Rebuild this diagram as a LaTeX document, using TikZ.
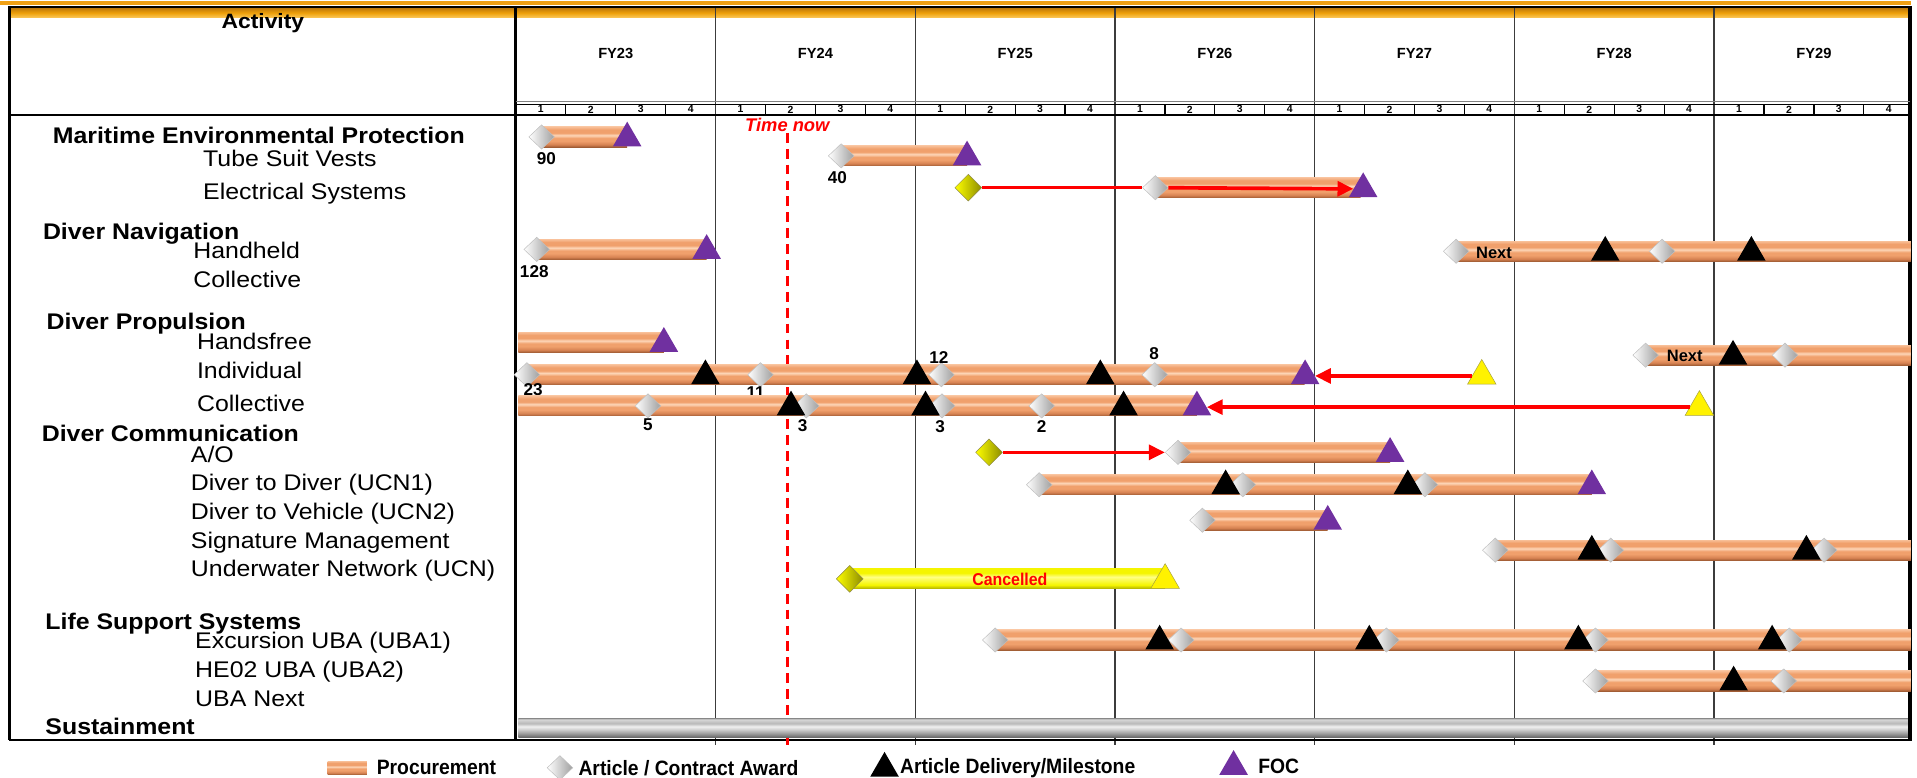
\documentclass[tikz,border=0pt]{standalone}
\usepackage{fontspec}
\setmainfont{Liberation Sans}
\newfontfamily\narrowfont[FakeStretch=0.93]{Liberation Sans}
\newfontfamily\widefont[FakeStretch=1.1]{Liberation Sans}
\usetikzlibrary{arrows.meta,shapes.geometric}

\definecolor{focpurple}{RGB}{112,48,160}
\definecolor{slipred}{RGB}{255,0,0}
\definecolor{gridgray}{RGB}{60,60,60}
\definecolor{headgold}{RGB}{240,160,20}
\definecolor{procA}{RGB}{160,92,52}
\definecolor{procB}{RGB}{214,130,82}
\definecolor{procC}{RGB}{240,160,108}
\definecolor{procD}{RGB}{253,214,184}
\definecolor{procE}{RGB}{248,190,150}
\definecolor{susA}{RGB}{95,95,95}
\definecolor{susB}{RGB}{150,150,150}
\definecolor{susC}{RGB}{215,215,215}
\definecolor{susD}{RGB}{240,240,240}
\definecolor{susE}{RGB}{185,185,185}
\definecolor{ylwA}{RGB}{170,170,0}
\definecolor{ylwB}{RGB}{245,245,0}
\definecolor{ylwC}{RGB}{255,255,130}
\definecolor{goldA}{RGB}{252,200,90}
\definecolor{goldB}{RGB}{238,160,10}
\definecolor{goldC}{RGB}{190,120,10}

\pgfdeclareverticalshading{procshade}{100bp}{color(0bp)=(procA); color(25bp)=(procA);
  color(31bp)=(procB); color(40bp)=(procC); color(47bp)=(procC); color(54bp)=(procD);
  color(60bp)=(procC); color(68bp)=(procC); color(75bp)=(procE); color(100bp)=(procE)}
\pgfdeclareverticalshading{susshade}{100bp}{color(0bp)=(susA); color(25bp)=(susA);
  color(35bp)=(susB); color(48bp)=(susC); color(54bp)=(susD); color(62bp)=(susE);
  color(72bp)=(susC); color(75bp)=(susB); color(100bp)=(susB)}
\pgfdeclareverticalshading{ylwshade}{100bp}{color(0bp)=(ylwA); color(25bp)=(ylwA);
  color(35bp)=(ylwB); color(55bp)=(ylwC); color(65bp)=(ylwB); color(100bp)=(ylwB)}
\pgfdeclareverticalshading{goldshade}{100bp}{color(0bp)=(goldA); color(25bp)=(goldA);
  color(50bp)=(goldB); color(75bp)=(goldC); color(100bp)=(goldC)}

\newcommand{\procbar}[3]{\shade[shading=procshade] (#2,#1-8.25) rectangle (#3,#1+8.25);}

\tikzset{
  award/.style={diamond, inner sep=0pt, minimum width=21pt, minimum height=20pt,
    left color=white, right color=gray!75, draw=gray!50, line width=0.4pt},
  golden/.style={award, minimum width=22pt, minimum height=22pt,
    left color=yellow, right color=yellow!55!black, draw=yellow!50!black},
  delivery/.style={regular polygon, regular polygon sides=3, inner sep=0pt,
    minimum size=27pt, yshift=-1pt, fill=black},
  foc/.style={delivery, fill=focpurple},
  slipped/.style={delivery, fill=yellow, draw=yellow!60!black, line width=0.4pt},
  slipline/.style={draw=slipred, line width=3pt},
  slip/.style={slipline, -{Triangle[length=13pt,width=12pt]}},
  yearline/.style={gridgray, line width=1.2pt},
  head/.style={anchor=base west, inner sep=0pt, font=\widefont\fontsize{18.5}{22}\selectfont\bfseries},
  item/.style={anchor=base west, inner sep=0pt, font=\widefont\fontsize{18.5}{22}\selectfont},
  qty/.style={inner sep=0pt, font=\fontsize{14}{16}\selectfont\bfseries},
  nexttag/.style={inner sep=0pt, font=\fontsize{13.5}{16}\selectfont\bfseries},
  fy/.style={font=\fontsize{12}{14}\selectfont\bfseries},
  qtr/.style={inner sep=0pt, font=\fontsize{8.5}{10}\selectfont\bfseries},
  legend/.style={anchor=west, inner sep=0pt, font=\narrowfont\fontsize{17}{20}\selectfont\bfseries}
}

\begin{document}
\begin{tikzpicture}[x=1pt, y=-1pt]
\useasboundingbox (0,0) rectangle (1568,636);

% header band and frame
\draw[headgold, line width=3pt] (0,2.5) -- (1563,2.5);
\shade[shading=goldshade] (8,6.5) rectangle (1562,14.5);
\foreach \k in {1,...,6}
  \draw[yearline] (422+163.33*\k,6) -- (422+163.33*\k,609);
\draw[line width=1.8pt] (7,5.5) -- (1563.5,5.5);
\draw[line width=2.5pt] (8,5) -- (8,605);
\draw[line width=2.5pt] (422,5) -- (422,605);
\draw[line width=3pt] (1562,5) -- (1562,605);
\draw[line width=1.5pt] (7,605) -- (1563.5,605);

% years and quarters
\node[font=\widefont\fontsize{17}{20}\selectfont\bfseries] (activity) at (215,19) {Activity};
\draw[gray, line width=0.8pt] (422,83.3) -- (1562,83.3);
\draw[line width=1.2pt] (422,85.3) -- (1562,85.3);
\draw[line width=1.3pt] (8,94) -- (1562,94);
\foreach \k in {0,...,6}
  \foreach \q in {1,2,3}
    \draw[line width=1pt] (422+163.33*\k+40.83*\q,85.3) -- (422+163.33*\k+40.83*\q,94);
\foreach \y [count=\k from 0] in {23,...,29} {
  \node[fy] (fy\y) at (503.67+163.33*\k,44) {FY\y};
  \foreach \q in {1,...,4}
    \node[qtr] (q\y-\q) at (401.58+163.33*\k+40.83*\q,89.5) {\q};
}

% time now
\node[font=\fontsize{15}{18}\selectfont\bfseries\itshape, text=slipred, inner sep=1pt] (now) at (644,102) {Time now};
\coordinate (nowend) at (644,609);
\draw[slipred, line width=2.5pt, dash pattern=on 8pt off 5pt] (now.south) -- (nowend);

% activity labels
\node[head] (mep) at (43,117.5) {Maritime Environmental Protection};
\node[item] (tsv) at (166,136.5) {Tube Suit Vests};
\node[item] (els) at (166,163.5) {Electrical Systems};
\node[head] (dnav) at (35,195.5) {Diver Navigation};
\node[item] (hh) at (158,211.5) {Handheld};
\node[item] (ncol) at (158,235.5) {Collective};
\node[head] (dprop) at (38,269.5) {Diver Propulsion};
\node[item] (hf) at (161,285.5) {Handsfree};
\node[item] (indiv) at (161,309.5) {Individual};
\node[item] (pcol) at (161,336.5) {Collective};
\node[head] (dcom) at (34,361) {Diver Communication};
\node[item] (ao) at (156,378) {A/O};
\node[item] (d2d) at (156,401.5) {Diver to Diver (UCN1)};
\node[item] (d2v) at (156,425) {Diver to Vehicle (UCN2)};
\node[item] (sig) at (156,448.5) {Signature Management};
\node[item] (ucn) at (156,471.5) {Underwater Network (UCN)};
\node[head] (lss) at (37,514.5) {Life Support Systems};
\node[item] (uba1) at (159.5,530.5) {Excursion UBA (UBA1)};
\node[item] (uba2) at (159.5,554.5) {HE02 UBA (UBA2)};
\node[item] (ubanext) at (159.5,577.5) {UBA Next};
\node[head] (sus) at (37,601) {Sustainment};

% Maritime Environmental Protection
\procbar{112}{443}{513}
\node[award] (tsv-a) at (443,112) {};
\node[foc] (tsv-f) at (513,112) {};
\node[qty] (tsv-n) at (447,130) {90};
\procbar{127.5}{688}{791}
\node[award] (tsv2-a) at (688,127.5) {};
\node[foc] (tsv2-f) at (791,127.5) {};
\node[qty] (tsv2-n) at (685,145) {40};
\procbar{153.5}{945}{1113}
\node[golden] (els-g) at (792,153.5) {};
\node[award] (els-a) at (945,153.5) {};
\node[foc] (els-f) at (1115,153.5) {};
\draw[slipline] (els-g) -- (els-a);
\draw[slip] (els-a) -- (els-f);

% Diver Navigation
\procbar{204}{439}{578}
\node[award] (hh-a) at (439,204) {};
\node[foc] (hh-f) at (578,204) {};
\node[qty] (hh-n) at (437,222.5) {128};
\procbar{205.5}{1191}{1563}
\node[award] (hhn-a1) at (1191,205.5) {};
\node[award] (hhn-a2) at (1359.5,205.5) {};
\node[nexttag] (hhn-t) at (1222,206.5) {Next};
\foreach \x [count=\i] in {1313,1432.5}
  \node[delivery] (hhn-m\i) at (\x,205.5) {};

% Diver Propulsion
\procbar{280}{424}{543}
\node[foc] (hf-f) at (543,280) {};
\procbar{290.5}{1346}{1563}
\node[award] (hfn-a1) at (1346,290.5) {};
\node[award] (hfn-a2) at (1460,290.5) {};
\node[nexttag] (hfn-t) at (1378,291.5) {Next};
\node[delivery] (hfn-m) at (1417.5,290.5) {};
\procbar{306.5}{431}{1067}
\foreach \x [count=\i] in {431,622,770,944.5}
  \node[award] (ind-a\i) at (\x,306.5) {};
\foreach \x [count=\i] in {577,750,900}
  \node[delivery] (ind-m\i) at (\x,306.5) {};
\node[foc] (ind-f) at (1067.5,306.5) {};
\node[qty] (ind-n1) at (436,318.5) {23};
\node[qty] (ind-n2) at (618,321) {11};
\node[qty] (ind-n3) at (768,292.5) {12};
\node[qty] (ind-n4) at (944,289) {8};
\node[slipped] (ind-y) at (1212,306.5) {};
\draw[slip] (ind-y) -- (ind-f);
\procbar{332}{424}{979}
\foreach \x [count=\i] in {530,659.5,770.5,852}
  \node[award] (pcol-a\i) at (\x,332) {};
\foreach \x [count=\i] in {647,757,919}
  \node[delivery] (pcol-m\i) at (\x,332) {};
\node[foc] (pcol-f) at (979,332) {};
\node[qty] (pcol-n1) at (530,347) {5};
\node[qty] (pcol-n2) at (656.5,348.5) {3};
\node[qty] (pcol-n3) at (769,349) {3};
\node[qty] (pcol-n4) at (852,349) {2};
\node[slipped] (pcol-y) at (1390,332) {};
\draw[slip] (pcol-y) -- (pcol-f);

% Diver Communication
\procbar{370}{963}{1137}
\node[golden] (ao-g) at (809,370) {};
\node[award] (ao-a) at (963.5,370) {};
\node[foc] (ao-f) at (1137,370) {};
\draw[slip] (ao-g) -- (ao-a);
\procbar{396.5}{850}{1302}
\foreach \x [count=\i] in {850,1016.5,1165.5}
  \node[award] (d2d-a\i) at (\x,396.5) {};
\foreach \x [count=\i] in {1002.5,1151.5}
  \node[delivery] (d2d-m\i) at (\x,396.5) {};
\node[foc] (d2d-f) at (1302,396.5) {};
\procbar{425.5}{983.5}{1086}
\node[award] (d2v-a) at (983.5,425.5) {};
\node[foc] (d2v-f) at (1086,425.5) {};
\procbar{450}{1223}{1563}
\foreach \x [count=\i] in {1223,1317.5,1492}
  \node[award] (sig-a\i) at (\x,450) {};
\foreach \x [count=\i] in {1302,1477.5}
  \node[delivery] (sig-m\i) at (\x,450) {};
\shade[shading=ylwshade] (695,465.25) rectangle (953,481.75);
\node[golden] (ucn-g) at (695,473.5) {};
\node[slipped] (ucn-y) at (953,473.5) {};
\node[inner sep=0pt, text=slipred, font=\narrowfont\fontsize{14}{16}\selectfont\bfseries] (ucn-t) at (826,474) {Cancelled};

% Life Support Systems
\procbar{523.5}{814}{1563}
\foreach \x [count=\i] in {814,966,1134,1305,1463.5}
  \node[award] (uba1-a\i) at (\x,523.5) {};
\foreach \x [count=\i] in {948.5,1120,1291,1449.5}
  \node[delivery] (uba1-m\i) at (\x,523.5) {};
\procbar{557}{1305}{1563}
\foreach \x [count=\i] in {1305,1459}
  \node[award] (uba2-a\i) at (\x,557) {};
\node[delivery] (uba2-m) at (1418,557) {};

% Sustainment
\shade[shading=susshade] (424,587.5) rectangle (1560.5,603.5);

% legend
\node[shade, shading=procshade, minimum width=32pt, minimum height=11pt, inner sep=0pt] (lg-p) at (284,628) {};
\node[legend] (lg-pt) at (308,627.5) {Procurement};
\node[award] (lg-a) at (458,628) {};
\node[legend] (lg-at) at (473,628.5) {Article / Contract Award};
\node[delivery] (lg-d) at (723.5,627.5) {};
\node[legend] (lg-dt) at (736,628) {Article Delivery/Milestone};
\node[foc] (lg-f) at (1009,626) {};
\node[legend] (lg-ft) at (1029,626.5) {FOC};
\end{tikzpicture}
\end{document}
